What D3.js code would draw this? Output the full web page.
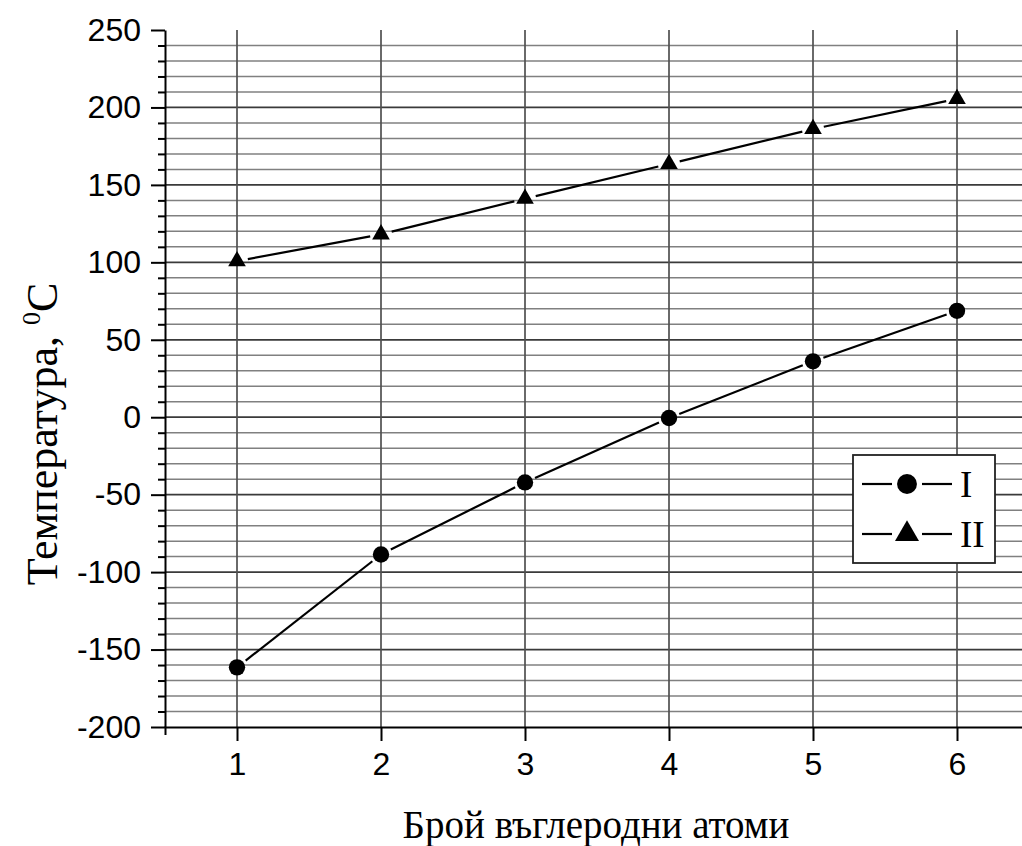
<!DOCTYPE html>
<html>
<head>
<meta charset="utf-8">
<script src="https://cdn.jsdelivr.net/npm/d3@7"></script>
<style>
    html, body { margin: 0; padding: 0; background: #fff; }
    svg { display: block; }
    .tick text { font-family: "Liberation Sans", Arial, sans-serif; }
</style>
</head>
<body>
<div id="chart"></div>
<script>
// Number of carbon atoms
const atoms = [1, 2, 3, 4, 5, 6];
// Series I (circles) and II (triangles), temperature in °C
const seriesI = [-161.5, -88.6, -42.1, -0.5, 36.1, 68.7];
const seriesII = [100.8, 118.1, 141.1, 163.5, 186.1, 205.5];
const seriesNames = ['I', 'II'];
const yTicks = [-200, -150, -100, -50, 0, 50, 100, 150, 200, 250];
const xLabel = 'Брой въглеродни атоми';
const yLabel = 'Температура, ';

const width = 1022;
const height = 846;
const plotLeft = 165, plotTop = 30, plotBottom = 727;

const svg = d3.select('#chart')
    .append('svg')
    .attr('width', width)
    .attr('height', height);

const x = d3.scaleLinear().domain([0.5, 6.5]).range([plotLeft, plotLeft + 6 * 144]);
const y = d3.scaleLinear().domain([-200, 250]).range([plotBottom, plotTop]);

// Horizontal grid, every 10 degrees
const gridValues = d3.range(-190, 250, 10);
svg.append('g')
    .selectAll('line')
    .data(gridValues)
    .enter()
    .append('line')
    .attr('x1', plotLeft)
    .attr('x2', x.range()[1])
    .attr('y1', d => y(d))
    .attr('y2', d => y(d))
    .attr('stroke', d => d % 50 === 0 ? '#3a3a3a' : '#808080')
    .attr('stroke-width', d => d % 50 === 0 ? 1.7 : 1.5);

// Vertical grid at each atom count
svg.append('g')
    .selectAll('line')
    .data(atoms)
    .enter()
    .append('line')
    .attr('x1', d => x(d))
    .attr('x2', d => x(d))
    .attr('y1', plotTop)
    .attr('y2', plotBottom)
    .attr('stroke', '#505050')
    .attr('stroke-width', 1.7);

// Minor y ticks
const minorTicks = gridValues.filter(d => d % 50 !== 0);
svg.append('g')
    .attr('transform', `translate(${plotLeft},0)`)
    .call(d3.axisLeft(y).tickValues(minorTicks).tickSize(7).tickFormat(''))
    .call(g => g.select('.domain').remove())
    .call(g => g.selectAll('line').attr('stroke', '#000').attr('stroke-width', 2));

// Y axis
svg.append('g')
    .attr('transform', `translate(${plotLeft},0)`)
    .call(d3.axisLeft(y).tickValues(yTicks).tickSize(14).tickSizeOuter(0).tickPadding(10)
        .tickFormat(d => String(d)))
    .call(g => g.select('.domain').attr('stroke', '#000').attr('stroke-width', 2))
    .call(g => g.selectAll('line').attr('stroke', '#000').attr('stroke-width', 2))
    .call(g => g.selectAll('text').attr('font-size', 32).attr('fill', '#000'));

// X axis
svg.append('g')
    .attr('transform', `translate(0,${plotBottom})`)
    .call(d3.axisBottom(x).tickValues(atoms).tickSize(14).tickSizeOuter(8).tickPadding(11)
        .tickFormat(d => String(d)))
    .call(g => g.select('.domain').attr('stroke', '#000').attr('stroke-width', 2))
    .call(g => g.selectAll('line').attr('stroke', '#000').attr('stroke-width', 2))
    .call(g => g.selectAll('text').attr('font-size', 32).attr('fill', '#000'));

// Axis titles
svg.append('text')
    .attr('x', 596)
    .attr('y', 838)
    .attr('text-anchor', 'middle')
    .style('font-family', '"Liberation Serif", "Times New Roman", serif')
    .style('font-size', '39px')
    .text(xLabel);

const yt = svg.append('text')
    .attr('transform', 'translate(57,434) rotate(-90)')
    .attr('text-anchor', 'middle')
    .style('font-family', '"Liberation Serif", "Times New Roman", serif')
    .style('font-size', '44px');
yt.append('tspan').text(yLabel);
yt.append('tspan').attr('dy', -17).style('font-size', '26px').text('0');
yt.append('tspan').attr('dy', 17).text('C');

// Connecting lines with small gaps at the markers
function drawSeries(values, symbolType, size) {
    const pts = atoms.map((a, i) => [x(a), y(values[i])]);
    const gap = 11;
    const segs = d3.pairs(pts).map(([p, q]) => {
        const dx = q[0] - p[0], dy = q[1] - p[1];
        const len = Math.hypot(dx, dy);
        const ux = dx / len, uy = dy / len;
        return [[p[0] + ux * gap, p[1] + uy * gap], [q[0] - ux * gap, q[1] - uy * gap]];
    });
    svg.append('g')
        .selectAll('path')
        .data(segs)
        .enter()
        .append('path')
        .attr('d', d3.line())
        .attr('stroke', '#000')
        .attr('stroke-width', 2.2)
        .attr('fill', 'none');

    svg.append('g')
        .selectAll('path')
        .data(pts)
        .enter()
        .append('path')
        .attr('transform', d => `translate(${d[0]},${d[1]})`)
        .attr('d', d3.symbol().type(symbolType).size(size))
        .attr('fill', '#000');
}

drawSeries(seriesI, d3.symbolCircle, 210);
drawSeries(seriesII, d3.symbolTriangle, 135);

// Legend
const legend = svg.append('g').attr('transform', 'translate(853,455)');
legend.append('rect')
    .attr('width', 142)
    .attr('height', 108)
    .attr('fill', '#fff')
    .attr('stroke', '#222')
    .attr('stroke-width', 1.8);

const legendSymbols = [
    { type: d3.symbolCircle, size: 310, cy: 29 },
    { type: d3.symbolTriangle, size: 250, cy: 79 }
];
seriesNames.forEach((name, i) => {
    const s = legendSymbols[i];
    const row = legend.append('g').attr('transform', `translate(0,${s.cy})`);
    row.append('line').attr('x1', 9).attr('x2', 39).attr('stroke', '#000').attr('stroke-width', 2.2);
    row.append('line').attr('x1', 69).attr('x2', 99).attr('stroke', '#000').attr('stroke-width', 2.2);
    row.append('path')
        .attr('transform', 'translate(54,0)')
        .attr('d', d3.symbol().type(s.type).size(s.size))
        .attr('fill', '#000');
    row.append('text')
        .attr('x', 107)
        .attr('y', 13)
        .style('font-family', '"Liberation Serif", "Times New Roman", serif')
        .style('font-size', '37px')
        .text(name);
});
</script>
</body>
</html>
